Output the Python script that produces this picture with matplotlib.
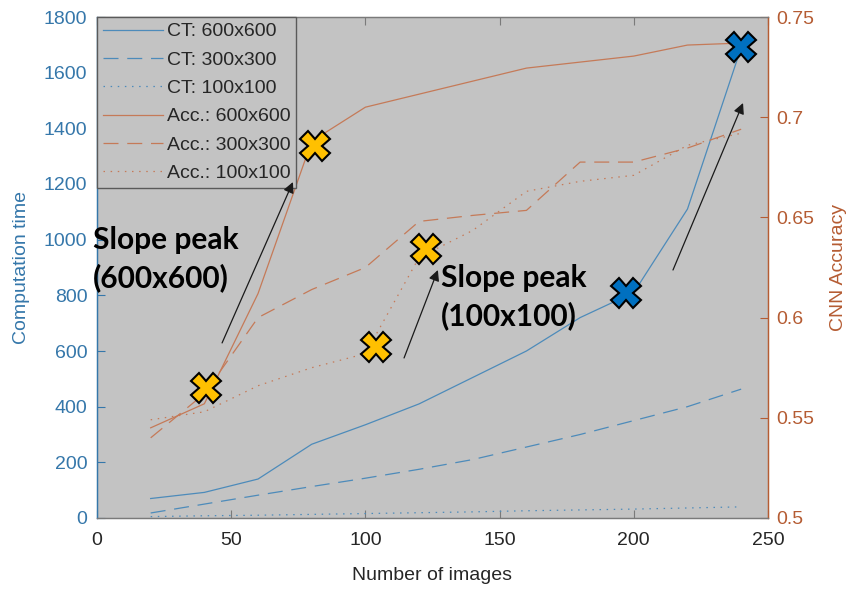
import matplotlib
matplotlib.use("Agg")
import matplotlib.pyplot as plt

plt.rcParams['font.family'] = ['Liberation Sans', 'DejaVu Sans']

# Number of training images
n_images = [20, 40, 60, 80, 100, 120, 140, 160, 180, 200, 220, 240]

# Computation time per image resolution
ct_600 = [70, 92, 140, 265, 335, 410, 505, 600, 720, 810, 1110, 1690]
ct_300 = [18, 50, 82, 113, 143, 175, 210, 255, 300, 350, 400, 463]
ct_100 = [5, 8, 10, 13, 16, 19, 22, 26, 29, 32, 36, 40]

# CNN accuracy per image resolution
acc_600 = [0.545, 0.557, 0.612, 0.688, 0.705, 0.7115, 0.718, 0.7245, 0.7275, 0.7305, 0.736, 0.737]
acc_300 = [0.540, 0.562, 0.600, 0.614, 0.625, 0.648, 0.651, 0.6535, 0.6776, 0.6776, 0.6846, 0.694]
acc_100 = [0.549, 0.553, 0.566, 0.575, 0.582, 0.630, 0.6435, 0.663, 0.668, 0.671, 0.686, 0.692]

legend_labels = ['CT: 600x600', 'CT: 300x300', 'CT: 100x100',
                 'Acc.: 600x600', 'Acc.: 300x300', 'Acc.: 100x100']

# Highlighted slope peaks: accuracy (yellow) and computation time (blue)
acc_peaks_x = [40.6, 81.2, 104.0, 122.6]
acc_peaks_y = [0.565, 0.6856, 0.5853, 0.6342]
ct_peaks_x = [197.1, 240.0]
ct_peaks_y = [808, 1692]

x_ticks = [0, 50, 100, 150, 200, 250]
ct_ticks = list(range(0, 1801, 200))
acc_ticks = [0.5, 0.55, 0.6, 0.65, 0.7, 0.75]
acc_tick_labels = ['0.5', '0.55', '0.6', '0.65', '0.7', '0.75']

BLUE_LINE = '#4d8bba'
BLUE_TEXT = '#3577aa'
ORANGE_LINE = '#c57a58'
ORANGE_TEXT = '#b55c33'
GRAY_TEXT = '#262626'
FACE = '#c3c3c3'
SPINE_GRAY = '#7a7a7a'

fig = plt.figure(figsize=(8.54, 5.90), dpi=100)
ax = fig.add_axes([97 / 854, 72 / 590, 671 / 854, 501 / 590])
ax.set_facecolor(FACE)
ax2 = ax.twinx()
ax2.patch.set_visible(False)

lw = 0.9
dash = (0, (12, 7))
dot = (0, (1.2, 4.5))

l1, = ax.plot(n_images, ct_600, color=BLUE_LINE, lw=lw)
l2, = ax.plot(n_images, ct_300, color=BLUE_LINE, lw=lw, linestyle=dash)
l3, = ax.plot(n_images, ct_100, color=BLUE_LINE, lw=lw, linestyle=dot)
l4, = ax2.plot(n_images, acc_600, color=ORANGE_LINE, lw=lw)
l5, = ax2.plot(n_images, acc_300, color=ORANGE_LINE, lw=lw, linestyle=dash)
l6, = ax2.plot(n_images, acc_100, color=ORANGE_LINE, lw=lw, linestyle=dot)

ax.set_xlim(0, 250)
ax.set_ylim(0, 1800)
ax2.set_ylim(0.5, 0.75)

ax.set_xticks(x_ticks)
ax.set_yticks(ct_ticks)
ax2.set_yticks(acc_ticks)
ax2.set_yticklabels(acc_tick_labels)

ax.tick_params(axis='x', direction='in', top=True, length=6, width=0.8,
               color=SPINE_GRAY, labelcolor=GRAY_TEXT, labelsize=14, pad=10)
ax.tick_params(axis='y', direction='in', length=6, width=0.8,
               color=BLUE_TEXT, labelcolor=BLUE_TEXT, labelsize=14, pad=7)
ax2.tick_params(axis='y', direction='in', length=6, width=0.8,
                color=ORANGE_TEXT, labelcolor=ORANGE_TEXT, labelsize=14, pad=6)

for a in (ax, ax2):
    a.spines['top'].set_color(SPINE_GRAY)
    a.spines['bottom'].set_color(SPINE_GRAY)
    a.spines['left'].set_color(BLUE_TEXT)
    a.spines['right'].set_color(ORANGE_TEXT)
    for s in a.spines.values():
        s.set_linewidth(0.9)

ax.set_xlabel('Number of images', fontsize=14, color=GRAY_TEXT, labelpad=13)
ax.set_ylabel('Computation time', fontsize=14, color=BLUE_TEXT, labelpad=10)
ax2.set_ylabel('CNN Accuracy', fontsize=14, color=ORANGE_TEXT, labelpad=11)

# Peak markers
ax2.plot(acc_peaks_x, acc_peaks_y, linestyle='none', marker='X', ms=21,
         mfc='#ffc000', mec='black', mew=1.5, zorder=8, clip_on=False)
ax2.plot(ct_peaks_x, ct_peaks_y, linestyle='none', marker='X', ms=21,
         mfc='#0070c0', mec='black', mew=1.5, zorder=8, clip_on=False,
         transform=ax.transData)

leg = ax2.legend([l1, l2, l3, l4, l5, l6], legend_labels, loc='upper left',
                 bbox_to_anchor=(0, 1), borderaxespad=0, fontsize=14,
                 handlelength=3.1, handletextpad=0.2, labelspacing=0.55,
                 borderpad=0.3, fancybox=False, framealpha=1,
                 facecolor=FACE, edgecolor='#5a5a5a', labelcolor=GRAY_TEXT)
leg.get_frame().set_linewidth(1.0)
leg.set_zorder(6)

# Annotations
arrow_kw = dict(arrowstyle='-|>', color='#1a1a1a', lw=0.9, mutation_scale=16,
                shrinkA=0, shrinkB=0)
ax2.annotate('', xy=(73.0, 1207), xytext=(46.6, 629), xycoords=ax.transData,
             textcoords=ax.transData, arrowprops=arrow_kw, zorder=9)
ax2.annotate('', xy=(127.0, 891), xytext=(114.4, 575), xycoords=ax.transData,
             textcoords=ax.transData, arrowprops=arrow_kw, zorder=9)
ax2.annotate('', xy=(240.7, 1491), xytext=(214.6, 891), xycoords=ax.transData,
             textcoords=ax.transData, arrowprops=arrow_kw, zorder=9)

note_kw = dict(fontsize=21.5, fontweight='bold', family=['Lato', 'DejaVu Sans'],
               color='black', ha='left', va='center', linespacing=1.35,
               zorder=10, clip_on=False, transform=ax.transData)
ax2.text(-1.5, 930, 'Slope peak\n(600x600)', **note_kw)
ax2.text(128.2, 794, 'Slope peak\n(100x100)', **note_kw)

fig.savefig('out.png', dpi=100, facecolor='white')
